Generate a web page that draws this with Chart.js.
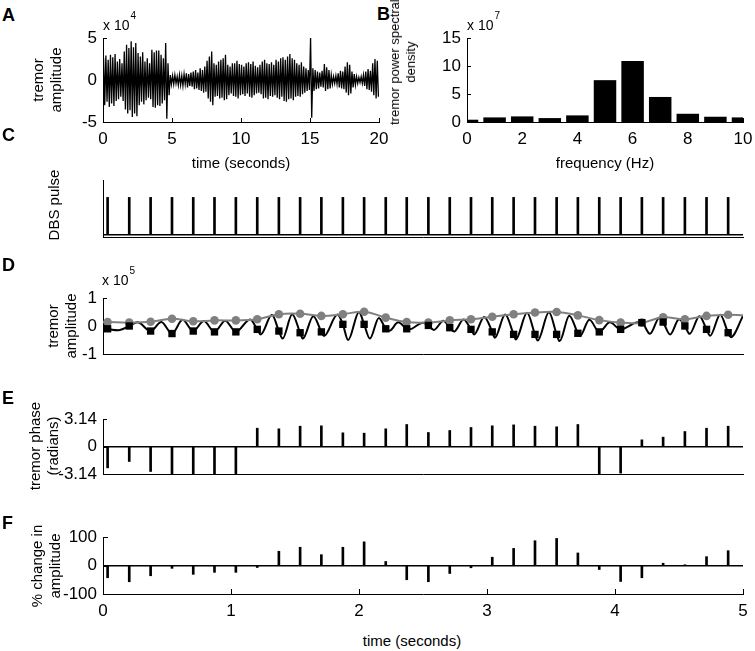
<!DOCTYPE html>
<html lang="en">
<head>
  <meta charset="UTF-8" />
  <title>Tremor and DBS pulses</title>
  <script src="https://cdn.jsdelivr.net/npm/chart.js"></script>
  <style>
    body {
      margin: 0;
      background: #ffffff;
      font-family: Arial, "Liberation Sans", Helvetica, sans-serif;
      color: #000;
    }
    #fig {
      position: relative;
      width: 755px;
      height: 651px;
      overflow: hidden;
    }
    canvas { position: absolute; }
    .letter {
      position: absolute;
      font-weight: bold;
      font-size: 18px;
      line-height: 18px;
    }
    .expo {
      position: absolute;
      font-size: 14px;
      line-height: 14px;
      white-space: nowrap;
    }
    .expo span {
      position: relative;
      top: -11px;
      font-size: 10px;
      line-height: 0;
      margin-left: 1px;
    }
    .xtitle {
      position: absolute;
      font-size: 15px;
      line-height: 17px;
      white-space: nowrap;
      transform: translate(-50%, -50%);
    }
    .ytitle {
      position: absolute;
      font-size: 15px;
      line-height: 18px;
      white-space: nowrap;
      text-align: center;
      transform: translate(-50%, -50%) rotate(-90deg);
    }
    .ytitle.small {
      font-size: 13px;
      line-height: 16px;
    }
  </style>
</head>
<body>
<div id="fig">
  <canvas id="chartA" width="392" height="132" style="left:0;top:28px"></canvas>
  <canvas id="chartB" width="363" height="132" style="left:392px;top:28px"></canvas>
  <canvas id="chartC" width="755" height="70" style="left:0;top:170px"></canvas>
  <canvas id="chartD" width="755" height="80" style="left:0;top:285px"></canvas>
  <canvas id="chartE" width="755" height="77" style="left:0;top:408px"></canvas>
  <canvas id="chartF" width="755" height="100" style="left:0;top:525px"></canvas>

  <div class="letter" style="left:2px;top:6px">A</div>
  <div class="letter" style="left:377px;top:5px">B</div>
  <div class="letter" style="left:2px;top:126px">C</div>
  <div class="letter" style="left:2px;top:256px">D</div>
  <div class="letter" style="left:2px;top:389px">E</div>
  <div class="letter" style="left:2px;top:514px">F</div>

  <div class="expo" style="left:103px;top:18px">x 10<span>4</span></div>
  <div class="expo" style="left:467px;top:18px">x 10<span>7</span></div>
  <div class="expo" style="left:102px;top:273px">x 10<span>5</span></div>

  <div class="xtitle" style="left:241px;top:162px">time (seconds)</div>
  <div class="xtitle" style="left:605px;top:162px">frequency (Hz)</div>
  <div class="xtitle" style="left:412px;top:640px">time (seconds)</div>

  <div class="ytitle" style="left:47px;top:80px">tremor<br>amplitude</div>
  <div class="ytitle small" style="left:403px;top:62px">tremor power spectral<br>density</div>
  <div class="ytitle" style="left:54px;top:205px">DBS pulse</div>
  <div class="ytitle" style="left:62px;top:326px">tremor<br>amplitude</div>
  <div class="ytitle" style="left:44px;top:446px">tremor phase<br>(radians)</div>
  <div class="ytitle" style="left:46px;top:566px">% change in<br>amplitude</div>
</div>

<script>
  // --- A : tremor trace, one peak and one trough per tremor cycle (x 10^4)
  const tremorRate = 6; // cycles per second
  const aPeaks = [
    2.6, 2.9, 2.4, 3.0, 2.7, 3.1, 2.2, 2.5, 2.0, 3.4, 4.2, 3.8,
    4.6, 3.9, 4.4, 3.2, 2.8, 3.3, 2.2, 2.6, 2.0, 3.6, 3.3, 3.5,
    3.5, 3.0, 2.6, 4.4, 2.0, 0.6, 0.5, 0.6, 0.4, 0.6, 0.5, 0.7,
    0.8, 0.7, 0.9, 1.0, 1.2, 0.9, 1.4, 1.2, 1.6, 2.3, 2.8, 3.4,
    2.0, 1.8, 2.2, 2.4, 2.6, 3.0, 1.8, 1.6, 2.0, 2.0, 2.3, 1.9,
    1.8, 1.6, 2.0, 2.1, 1.9, 2.2, 1.7, 1.5, 1.8, 2.2, 2.4, 2.0,
    1.9, 2.1, 1.8, 2.4, 2.2, 2.6, 2.7, 2.4, 2.8, 3.1, 2.6, 2.4,
    2.0, 1.8, 2.1, 1.6, 1.4, 1.2, 5.0, 1.4, 1.2, 1.0, 0.9, 1.1,
    1.9, 1.5, 1.2, 0.6, 0.4, 0.5, 0.8, 1.1, 1.0, 1.6, 2.1, 1.8,
    1.0, 0.7, 0.4, 0.3, 0.4, 0.6, 1.0, 1.3, 1.1, 2.0, 2.5, 2.3
  ];
  const aTroughs = [
    -3.0, -2.6, -3.2, -2.8, -3.1, -2.5, -2.3, -2.0, -2.5, -3.5, -4.0, -3.6,
    -4.4, -4.0, -4.3, -3.0, -2.6, -2.9, -2.4, -2.1, -2.3, -3.2, -3.3, -3.0,
    -3.1, -2.8, -2.4, -4.6, -1.8, -0.5, -0.5, -0.4, -0.6, -0.6, -0.7, -0.5,
    -0.9, -0.7, -0.8, -1.1, -1.0, -1.2, -1.3, -1.5, -1.4, -2.2, -2.6, -3.0,
    -2.0, -1.9, -2.2, -2.1, -2.4, -2.3, -1.8, -1.6, -1.9, -2.0, -2.2, -1.8,
    -1.7, -1.9, -1.6, -2.0, -2.1, -1.8, -1.6, -1.5, -1.7, -2.2, -2.1, -2.3,
    -1.9, -2.0, -1.8, -2.1, -2.3, -2.0, -2.5, -2.6, -2.3, -2.2, -2.4, -2.0,
    -1.9, -2.0, -1.7, -1.5, -1.3, -1.2, -4.5, -1.3, -1.1, -1.0, -0.8, -0.9,
    -1.3, -1.1, -1.0, -0.5, -0.4, -0.5, -0.9, -1.0, -1.1, -1.5, -1.8, -1.6,
    -0.9, -0.6, -0.4, -0.3, -0.4, -0.7, -1.1, -1.2, -1.4, -1.8, -2.2, -2.0
  ];
  const aTimeTicks = [0, 5, 10, 15, 20];
  const aAmpTicks = [-5, 0, 5];

  // --- B : power spectral density (x 10^7)
  const psdFreq = [0, 1, 2, 3, 4, 5, 6, 7, 8, 9, 10];
  const psdValue = [0.41, 0.82, 1.0, 0.7, 1.18, 7.47, 10.88, 4.47, 1.47, 0.94, 0.82];
  const psdFreqTicks = [0, 2, 4, 6, 8, 10];
  const psdTicks = [0, 5, 10, 15];

  // --- C to F : one value per DBS pulse
  const timeRange = [0, 5];
  const timeTicks = [0, 1, 2, 3, 4, 5];
  const pulseTimes = [
    0.036, 0.205, 0.372, 0.539, 0.705, 0.871, 1.038, 1.205, 1.374, 1.540,
    1.706, 1.874, 2.040, 2.209, 2.373, 2.542, 2.709, 2.875, 3.041, 3.208,
    3.375, 3.544, 3.710, 3.877, 4.044, 4.210, 4.376, 4.546, 4.715, 4.884
  ];
  const pulseValue = [1, 1, 1, 1, 1, 1, 1, 1, 1, 1, 1, 1, 1, 1, 1,
                      1, 1, 1, 1, 1, 1, 1, 1, 1, 1, 1, 1, 1, 1, 1];

  // D : envelope (grey circles) and signal value (black squares) at each pulse, x 10^5
  const dEnvelope = [
    0.14, 0.12, 0.15, 0.26, 0.17, 0.20, 0.20, 0.24, 0.42, 0.44,
    0.36, 0.42, 0.51, 0.30, 0.14, 0.12, 0.20, 0.24, 0.33, 0.42,
    0.48, 0.50, 0.38, 0.21, 0.12, 0.12, 0.31, 0.24, 0.36, 0.40
  ];
  const dEnvelopeEdges = [0.14, 0.38];
  const dAtPulse = [
    -0.10, 0.00, -0.18, -0.27, -0.18, -0.21, -0.21, -0.12, -0.18, -0.24,
    -0.21, 0.06, 0.06, -0.10, -0.10, 0.02, -0.06, -0.12, -0.21, -0.30,
    -0.30, -0.30, -0.26, -0.21, -0.12, 0.12, 0.14, 0.00, -0.12, -0.24
  ];
  // D : filtered tremor signal, turning points
  const dSignalT = [
    0.000, 0.036, 0.120, 0.205, 0.270, 0.372, 0.455, 0.539, 0.622, 0.705,
    0.788, 0.871, 0.955, 1.038, 1.149, 1.205, 1.232, 1.320, 1.374, 1.403,
    1.478, 1.540, 1.561, 1.643, 1.706, 1.726, 1.832, 1.874, 1.915, 2.000,
    2.040, 2.085, 2.155, 2.209, 2.238, 2.306, 2.373, 2.392, 2.500, 2.542,
    2.585, 2.660, 2.709, 2.743, 2.817, 2.875, 2.900, 2.978, 3.041, 3.061,
    3.142, 3.208, 3.225, 3.313, 3.375, 3.396, 3.484, 3.544, 3.567, 3.643,
    3.710, 3.726, 3.800, 3.877, 3.960, 4.044, 4.180, 4.210, 4.273, 4.348,
    4.376, 4.431, 4.500, 4.546, 4.583, 4.660, 4.715, 4.743, 4.822, 4.884,
    4.905, 5.000
  ];
  const dSignalV = [
    0.12, -0.10, -0.15, 0.00, 0.13, -0.18, 0.14, -0.27, 0.22, -0.18,
    0.18, -0.21, 0.19, -0.21, 0.23, -0.12, -0.30, 0.40, -0.18, -0.45,
    0.42, -0.24, -0.45, 0.35, -0.21, -0.36, 0.41, 0.06, -0.50, 0.50,
    0.06, -0.45, 0.29, -0.10, -0.17, 0.13, -0.10, -0.12, 0.12, 0.02,
    -0.14, 0.19, -0.06, -0.20, 0.23, -0.12, -0.30, 0.32, -0.21, -0.42,
    0.41, -0.30, -0.48, 0.47, -0.30, -0.52, 0.49, -0.30, -0.54, 0.37,
    -0.26, -0.36, 0.22, -0.21, 0.13, -0.12, 0.13, 0.12, -0.28, 0.30,
    0.14, -0.30, 0.24, 0.00, -0.28, 0.35, -0.12, -0.35, 0.40, -0.24,
    -0.40, 0.36
  ];
  const dAmpTicks = [-1, 0, 1];

  // E : tremor phase at each pulse (radians)
  const phaseAtPulse = [
    -2.44, -1.71, -2.85, -3.14, -3.14, -3.14, -3.14, 2.09, 2.02, 2.32,
    2.36, 1.56, 1.52, 2.02, 2.51, 1.60, 1.83, 2.17, 2.36, 2.47,
    2.32, 2.25, 2.51, -3.14, -3.04, 0.76, 1.07, 1.71, 2.09, 2.32
  ];
  const phaseTicks = [-3.14, 0, 3.14];

  // F : % change in amplitude after each pulse
  const ampChange = [
    -43, -57, -36, -10, -31, -24, -24, -7, 50, 64,
    38, 64, 83, 14, -50, -57, -28, -8, 29, 60,
    87, 95, 44, -14, -56, -43, 8, 2, 31, 52
  ];
  const changeTicks = [-100, 0, 100];

  Chart.defaults.font.family = 'Arial, "Liberation Sans", Helvetica, sans-serif';
  Chart.defaults.font.size = 17;
  Chart.defaults.color = '#000';
  Chart.defaults.animation = false;
  Chart.defaults.responsive = false;
  Chart.defaults.plugins.legend.display = false;
  Chart.defaults.plugins.tooltip.enabled = false;

  // petits traits de graduation tournés vers l'intérieur (style matlab)
  const inTicks = {
    id: 'inTicks',
    afterDatasetsDraw(chart, args, opts) {
      const { ctx, chartArea: a, scales: { x, y } } = chart;
      const len = opts.len || 4;
      ctx.save();
      ctx.strokeStyle = '#000';
      ctx.lineWidth = 1;
      ctx.beginPath();
      if (opts.x) x.ticks.forEach(t => {
        const px = Math.round(x.getPixelForValue(t.value)) + 0.5;
        ctx.moveTo(px, a.bottom);
        ctx.lineTo(px, a.bottom - len);
      });
      if (opts.y) y.ticks.forEach(t => {
        const py = Math.round(y.getPixelForValue(t.value)) + 0.5;
        ctx.moveTo(a.left, py);
        ctx.lineTo(a.left + len, py);
      });
      ctx.stroke();
      ctx.restore();
    }
  };

  function linAxis(o) {
    return {
      type: 'linear',
      min: o.min,
      max: o.max,
      offset: false,
      afterBuildTicks: s => { s.ticks = o.ticks.map(v => ({ value: v })); },
      afterFit: s => {
        if (o.isX) { s.height = o.size; s.paddingLeft = 0; s.paddingRight = 0; }
        else { s.width = o.size; s.paddingTop = 0; s.paddingBottom = 0; }
      },
      grid: o.zeroLine
        ? { display: true, drawTicks: false, lineWidth: 1.5,
            color: c => (c.tick && c.tick.value === 0 ? '#000' : 'rgba(0,0,0,0)') }
        : { display: false, drawTicks: false },
      border: { display: true, color: '#000', width: 1 },
      ticks: { display: !!o.labels, padding: o.isX ? 7 : 6, autoSkip: false, maxRotation: 0,
               callback: v => String(v) }
    };
  }

  function pad(top, right) {
    return { padding: { top: top, right: right, left: 0, bottom: 0 } };
  }

  function stems(values, color) {
    return {
      data: pulseTimes.map((t, i) => ({ x: t, y: values[i] })),
      backgroundColor: color,
      borderWidth: 0,
      barThickness: 2,
      clip: 0
    };
  }

  // A
  const tremorTrace = [];
  aPeaks.forEach((p, i) => {
    tremorTrace.push({ x: (i + 0.25) / tremorRate, y: p });
    tremorTrace.push({ x: (i + 0.75) / tremorRate, y: aTroughs[i] });
  });
  new Chart(document.getElementById('chartA'), {
    type: 'line',
    data: { datasets: [{ data: tremorTrace, borderColor: '#000', borderWidth: 1.3, pointRadius: 0, tension: 0, clip: 0 }] },
    options: {
      layout: pad(10, 13),
      scales: {
        x: linAxis({ min: 0, max: 20, ticks: aTimeTicks, labels: true, size: 38, isX: true }),
        y: linAxis({ min: -5, max: 5, ticks: aAmpTicks, labels: true, size: 103 })
      },
      plugins: { inTicks: { x: true, y: true, len: 4 } }
    },
    plugins: [inTicks]
  });

  // B
  new Chart(document.getElementById('chartB'), {
    type: 'bar',
    data: {
      datasets: [{
        data: psdFreq.map((f, i) => ({ x: f, y: psdValue[i] })),
        backgroundColor: '#000',
        borderWidth: 0,
        barPercentage: 0.815,
        categoryPercentage: 1,
        clip: 0
      }]
    },
    options: {
      layout: pad(10, 12),
      scales: {
        x: linAxis({ min: 0, max: 10, ticks: psdFreqTicks, labels: true, size: 38, isX: true }),
        y: linAxis({ min: 0, max: 15, ticks: psdTicks, labels: true, size: 75 })
      },
      plugins: { inTicks: { x: true, y: true, len: 4 } }
    },
    plugins: [inTicks]
  });

  // C
  new Chart(document.getElementById('chartC'), {
    type: 'bar',
    data: { datasets: [stems(pulseValue, '#000')] },
    options: {
      layout: pad(10, 12),
      scales: {
        x: linAxis({ min: timeRange[0], max: timeRange[1], ticks: timeTicks, labels: false, size: 3, isX: true }),
        y: linAxis({ min: -0.07, max: 1.47, ticks: [0], labels: false, size: 103, zeroLine: true })
      }
    }
  });

  // D
  const envelopeLine = [{ x: timeRange[0], y: dEnvelopeEdges[0] }]
    .concat(pulseTimes.map((t, i) => ({ x: t, y: dEnvelope[i] })))
    .concat([{ x: timeRange[1], y: dEnvelopeEdges[1] }]);
  new Chart(document.getElementById('chartD'), {
    type: 'line',
    data: {
      datasets: [
        { data: pulseTimes.map((t, i) => ({ x: t, y: dAtPulse[i] })), showLine: false,
          pointStyle: 'rect', pointRadius: 5.2, backgroundColor: '#000', borderWidth: 0 },
        { data: pulseTimes.map((t, i) => ({ x: t, y: dEnvelope[i] })), showLine: false,
          pointStyle: 'circle', pointRadius: 4.3, backgroundColor: '#808080', borderWidth: 0 },
        { data: envelopeLine, borderColor: '#808080', borderWidth: 2, pointRadius: 0, tension: 0.4 },
        { data: dSignalT.map((t, i) => ({ x: t, y: dSignalV[i] })), borderColor: '#000', borderWidth: 2,
          pointRadius: 0, cubicInterpolationMode: 'monotone' }
      ]
    },
    options: {
      layout: pad(13, 12),
      scales: {
        x: linAxis({ min: timeRange[0], max: timeRange[1], ticks: timeTicks, labels: false, size: 11, isX: true }),
        y: linAxis({ min: -1, max: 1, ticks: dAmpTicks, labels: true, size: 103 })
      },
      plugins: { inTicks: { y: true, len: 4 } }
    },
    plugins: [inTicks]
  });

  // E
  new Chart(document.getElementById('chartE'), {
    type: 'bar',
    data: { datasets: [stems(phaseAtPulse, '#000')] },
    options: {
      layout: pad(11, 12),
      scales: {
        x: linAxis({ min: timeRange[0], max: timeRange[1], ticks: timeTicks, labels: false, size: 11, isX: true }),
        y: linAxis({ min: -3.14, max: 3.14, ticks: phaseTicks, labels: true, size: 103, zeroLine: true })
      },
      plugins: { inTicks: { y: true, len: 4 } }
    },
    plugins: [inTicks]
  });

  // F
  new Chart(document.getElementById('chartF'), {
    type: 'bar',
    data: { datasets: [stems(ampChange, '#000')] },
    options: {
      layout: pad(12, 12),
      scales: {
        x: linAxis({ min: timeRange[0], max: timeRange[1], ticks: timeTicks, labels: true, size: 31, isX: true }),
        y: linAxis({ min: -100, max: 100, ticks: changeTicks, labels: true, size: 103, zeroLine: true })
      },
      plugins: { inTicks: { x: true, y: true, len: 5 } }
    },
    plugins: [inTicks]
  });
</script>
</body>
</html>
